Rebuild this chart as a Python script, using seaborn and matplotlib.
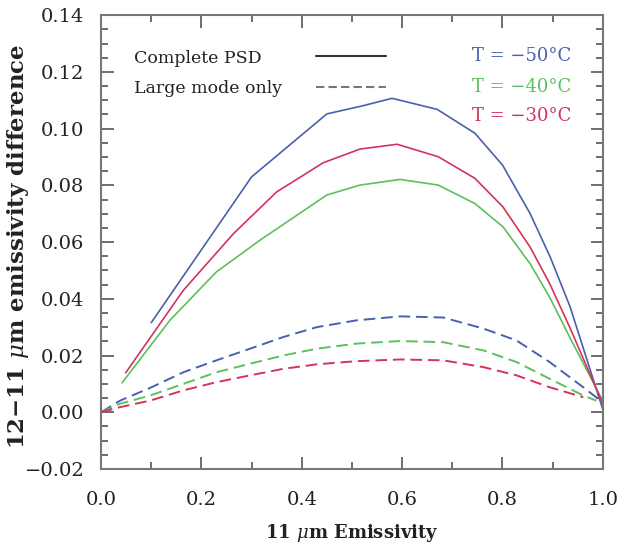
import matplotlib
matplotlib.use("Agg")
import matplotlib.pyplot as plt
import seaborn as sns
import pandas as pd
from matplotlib.ticker import MultipleLocator

# --- data ---
temps = ["T = \u221250\u00b0C", "T = \u221240\u00b0C", "T = \u221230\u00b0C"]
colors = ["#4a5fae", "#5cc05c", "#d2345c"]

# complete PSD (solid)
blue_x = [0.10, 0.30, 0.45, 0.52, 0.58, 0.67, 0.745, 0.80, 0.855, 0.895, 0.935, 1.00]
blue_y = [0.0316, 0.0830, 0.1052, 0.1080, 0.1107, 0.1068, 0.0984, 0.0872, 0.0701, 0.0548, 0.0371, 0.0010]
green_x = [0.042, 0.137, 0.230, 0.317, 0.450, 0.516, 0.596, 0.672, 0.745, 0.801, 0.855, 0.894, 0.934, 1.00]
green_y = [0.0104, 0.0324, 0.0495, 0.0607, 0.0766, 0.0801, 0.0821, 0.0801, 0.0736, 0.0654, 0.0524, 0.0406, 0.0265, 0.0040]
red_x = [0.049, 0.164, 0.264, 0.350, 0.443, 0.516, 0.590, 0.672, 0.745, 0.801, 0.855, 0.894, 0.934, 1.00]
red_y = [0.0139, 0.0430, 0.0630, 0.0777, 0.0880, 0.0928, 0.0945, 0.0901, 0.0825, 0.0724, 0.0583, 0.0454, 0.0300, 0.0030]

# large mode only (dashed)
bluel_x = [0.0, 0.038, 0.098, 0.164, 0.230, 0.297, 0.363, 0.430, 0.509, 0.596, 0.682, 0.762, 0.828, 0.894, 0.961, 0.991]
bluel_y = [0.0, 0.0041, 0.0086, 0.0141, 0.0183, 0.0224, 0.0265, 0.0300, 0.0324, 0.0338, 0.0334, 0.0295, 0.0253, 0.0177, 0.0088, 0.0047]
greenl_x = [0.0, 0.038, 0.098, 0.164, 0.230, 0.297, 0.363, 0.430, 0.509, 0.596, 0.682, 0.762, 0.828, 0.894, 0.961, 0.987]
greenl_y = [0.0, 0.0030, 0.0059, 0.0100, 0.0141, 0.0171, 0.0200, 0.0224, 0.0242, 0.0251, 0.0247, 0.0218, 0.0177, 0.0118, 0.0059, 0.0041]
redl_x = [0.0, 0.038, 0.098, 0.164, 0.230, 0.297, 0.363, 0.430, 0.509, 0.596, 0.682, 0.762, 0.828, 0.894, 0.961]
redl_y = [0.0, 0.0018, 0.0041, 0.0077, 0.0106, 0.0130, 0.0153, 0.0169, 0.0180, 0.0186, 0.0183, 0.0159, 0.0130, 0.0088, 0.0053]

x_ticks = [0.0, 0.2, 0.4, 0.6, 0.8, 1.0]
y_ticks = [-0.02, 0.00, 0.02, 0.04, 0.06, 0.08, 0.10, 0.12, 0.14]

sns.set_style("ticks")
plt.rcParams['font.family'] = ['DejaVu Serif']
plt.rcParams['mathtext.fontset'] = 'dejavuserif'

fig = plt.figure(figsize=(6.24, 5.44), dpi=100)
ax = fig.add_axes([0.162, 0.138, 0.804, 0.834])

solid = [(blue_x, blue_y, colors[0]), (green_x, green_y, colors[1]), (red_x, red_y, colors[2])]
dashed = [(bluel_x, bluel_y, colors[0]), (greenl_x, greenl_y, colors[1]), (redl_x, redl_y, colors[2])]
for xs, ys, c in solid:
    sns.lineplot(x=xs, y=ys, color=c, lw=1.2, ax=ax, sort=False, estimator=None)
for xs, ys, c in dashed:
    l = sns.lineplot(x=xs, y=ys, color=c, lw=1.4, ax=ax, sort=False, estimator=None)
    l.lines[-1].set_dashes([6, 3])

ax.set_xlim(0, 1.0)
ax.set_ylim(-0.02, 0.14)
ax.set_xticks(x_ticks)
ax.set_yticks(y_ticks)
ax.set_xticklabels([f"{v:.1f}" for v in x_ticks])
ax.set_yticklabels([f"{v:.2f}".replace("-", "\u2212") for v in y_ticks])
ax.xaxis.set_minor_locator(MultipleLocator(0.1))
ax.yaxis.set_minor_locator(MultipleLocator(0.005))
ax.tick_params(which='both', direction='in', top=True, right=True, color='#555555', width=1.2)
ax.tick_params(which='major', length=9, labelsize=14, labelcolor='#222222')
ax.tick_params(axis='y', which='major', pad=12)
ax.tick_params(axis='x', which='major', pad=16)
ax.tick_params(which='minor', length=5)
for s in ax.spines.values():
    s.set_color('#777777')
    s.set_linewidth(1.5)

ax.set_xlabel("11 $\\mu$m Emissivity", fontsize=13, fontweight='bold', color='#222222')
ax.set_ylabel("12\u221211 $\\mu$m emissivity difference", fontsize=16.5, fontweight='bold', color='#222222')
ax.xaxis.set_label_coords(0.5, -0.117)
ax.yaxis.set_label_coords(-0.14, 0.49)

# legend (drawn as text and sample lines in axes coords)
ax.text(0.066, 0.905, "Complete PSD", transform=ax.transAxes, fontsize=12.5, color='#222222', va='center')
ax.text(0.066, 0.838, "Large mode only", transform=ax.transAxes, fontsize=12.5, color='#222222', va='center')
ax.plot([0.428, 0.568], [0.910, 0.910], transform=ax.transAxes, color='#333333', lw=1.5)
ax.plot([0.428, 0.568], [0.841, 0.841], transform=ax.transAxes, color='#777777', lw=1.5, dashes=[4, 2])
for i, (t, c, yy) in enumerate(zip(temps, colors, [0.910, 0.841, 0.778])):
    ax.text(0.74, yy, t, transform=ax.transAxes, fontsize=13, color=c, va='center')

fig.savefig("out.png", dpi=100, facecolor='white')
